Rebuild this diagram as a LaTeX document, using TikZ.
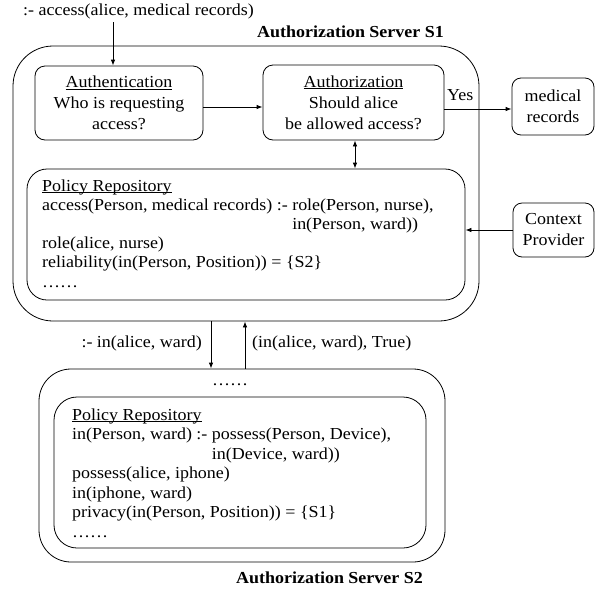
\documentclass[tikz,border=0pt]{standalone}
\usepackage{fontspec}
\setmainfont{Liberation Serif}[FakeStretch=1.07]
\usetikzlibrary{arrows.meta}
\newcommand\myul[1]{\setbox0\hbox{#1}\rlap{\rule[-1.7pt]{\wd0}{0.6pt}}#1}
\begin{document}
\begin{tikzpicture}[x=1pt,y=-1pt,
  txt/.style={font=\fontsize{16.8}{21}\selectfont, inner sep=0pt, anchor=base west},
  ttl/.style={font=\fontsize{16.8}{21}\selectfont\bfseries, inner sep=0pt, anchor=base},
  box/.style={draw, line width=0.8pt, rounded corners=10pt, align=center,
    font=\fontsize{16.8}{21}\selectfont, inner sep=0pt},
  big/.style={draw, line width=0.8pt, inner sep=0pt},
  arr/.style={-{Latex[length=6pt,width=4.5pt]}, line width=0.8pt},
  darr/.style={{Latex[length=6pt,width=4.5pt]}-{Latex[length=6pt,width=4.5pt]}, line width=0.8pt}]
\useasboundingbox (0,0) rectangle (597,590);

% servers
\node[big, rounded corners=40pt, minimum width=466pt, minimum height=275pt] (s1) at (246,183.5) {};
\node[big, rounded corners=32pt, minimum width=406pt, minimum height=193pt] (s2) at (242,465.5) {};
\node[ttl] (t1) at (350.5,37) {Authorization Server S1};
\node[ttl] (t2) at (329.5,583) {Authorization Server S2};

% query
\node[txt] (q) at (23,15) {:- access(alice, medical records)};

% boxes
\node[box, minimum width=168pt, minimum height=74pt] (auth) at (119,103)
  {\myul{Authentication}\\Who is requesting\\access?};
\node[box, minimum width=181pt, minimum height=75pt] (authz) at (353.5,102.5)
  {\myul{Authorization}\\Should alice\\be allowed access?};
\node[box, rounded corners=9pt, minimum width=82pt, minimum height=57pt] (med) at (553,106.5)
  {medical\\records};
\node[box, rounded corners=9pt, minimum width=81pt, minimum height=54pt] (ctx) at (553.5,230)
  {Context\\Provider};

% policy repositories
\node[big, rounded corners=20pt, minimum width=438pt, minimum height=131pt] (pol1) at (246,234.5) {};
\node[big, rounded corners=23pt, minimum width=372pt, minimum height=151pt] (pol2) at (240,472.5) {};

\node[txt] (p1a) at (42,191) {\myul{Policy Repository}};
\node[txt] (p1b) at (42,210.2) {access(Person, medical records) :- role(Person, nurse),};
\node[txt] (p1c) at (42,229.4) {\phantom{access(Person, medical records) :- }in(Person, ward))};
\node[txt] (p1d) at (42,248.6) {role(alice, nurse)};
\node[txt] (p1e) at (42,267.8) {reliability(in(Person, Position)) = \{S2\}};
\node[txt] (p1f) at (42,287) {……};

\node[txt] (dots2) at (212,385) {……};
\node[txt] (p2a) at (72,420) {\myul{Policy Repository}};
\node[txt] (p2b) at (72,439.5) {in(Person, ward) :- possess(Person, Device),};
\node[txt] (p2c) at (72,459) {\phantom{in(Person, ward) :- }in(Device, ward))};
\node[txt] (p2d) at (72,478.5) {possess(alice, iphone)};
\node[txt] (p2e) at (72,498) {in(iphone, ward)};
\node[txt] (p2f) at (72,517.5) {privacy(in(Person, Position)) = \{S1\}};
\node[txt] (p2g) at (72,537) {……};

% connectors
\coordinate (qa) at (113,22);
\draw[arr] (qa) -- (qa |- auth.north);
\draw[arr] ([yshift=-4pt]auth.east) -- ([yshift=-4pt]auth.east -| authz.west);
\draw[arr] ([yshift=-6.5pt]authz.east) -- ([yshift=-6.5pt]authz.east -| med.west);
\node[txt] (yes) at (447,100) {Yes};
\coordinate (da) at (355,0);
\draw[darr] (authz.south -| da) -- (pol1.north -| da);
\draw[arr] (ctx.west) -- (ctx.west -| pol1.east);

\coordinate (dn) at (211,0);
\coordinate (up) at (245,0);
\draw[arr] (s1.south -| dn) -- (s2.north -| dn);
\draw[arr] (s2.north -| up) -- (s1.south -| up);
\node[txt, anchor=base east] (ql) at (202,347) {:- in(alice, ward)};
\node[txt] (al) at (252,347) {(in(alice, ward), True)};
\end{tikzpicture}
\end{document}
